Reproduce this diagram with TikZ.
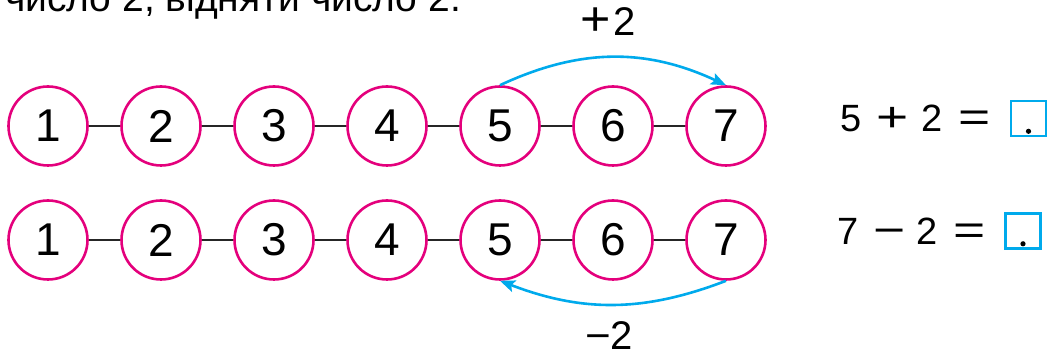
\documentclass[tikz,border=0pt]{standalone}
\usepackage{fontspec}
\usepackage{graphicx}
\setmainfont{Liberation Sans}
\usetikzlibrary{arrows.meta}
\definecolor{rim}{RGB}{228,0,124}
\definecolor{sky}{RGB}{0,170,236}
\newcommand{\wideop}[1]{\scalebox{1.45}[1.1]{#1}}
\tikzset{
  num/.style={circle, draw=rim, line width=2.6pt, minimum size=79pt, inner sep=0pt, font=\fontsize{46}{46}\selectfont},
  link/.style={line width=2pt, black!85},
  jump/.style={sky, line width=2.6pt, -{Stealth[length=15pt,width=12pt,inset=3pt]}},
  ansbox/.style={draw=sky, line width=2.6pt, minimum size=35pt, inner sep=0pt},
  big/.style={font=\fontsize{39}{39}\selectfont, inner sep=0pt}
}
\begin{document}
\begin{tikzpicture}[x=1pt, y=1pt]
            \useasboundingbox (0,0) rectangle (1053,352);
            % Testo
            \node[big, anchor=base west] (intro) at (5,340) {число 2, відняти число 2.};
            % Cerchi
            \foreach \i in {1,...,7} {
                \node[num] (a\i) at ({48+113*(\i-1)},226) {\i};
                \node[num] (b\i) at ({48+113*(\i-1)},112) {\i};
            }
            \foreach \i [evaluate=\i as \j using int(\i+1)] in {1,...,6} {
                \draw[link] (a\i) -- (a\j);
                \draw[link] (b\i) -- (b\j);
            }
            % Frecce
            \draw[jump] (a5.north) to[bend left=25] (a7.north);
            \draw[jump] (b7.south) to[bend left=21] (b5.south);
            \node[big, anchor=base, font=\fontsize{40}{40}\selectfont] (plus) at (608,316) {\scalebox{1.3}[1.2]{+}\hspace{2pt}2};
            \node[big, anchor=base, font=\fontsize{40}{40}\selectfont] (minus) at (609,2) {\scalebox{1.1}[1]{−}2};
            % Uguaglianze
            \node[big, anchor=base west, font=\fontsize{38}{38}\selectfont] (eq1) at (840,220) {5\hspace{15pt}\wideop{+}\hspace{13pt}2\hspace{16pt}\wideop{=}};
            \node[big, anchor=base west, font=\fontsize{38}{38}\selectfont] (eq2) at (837,107) {7\hspace{15pt}\wideop{−}\hspace{11pt}2\hspace{16pt}\wideop{=}};
            \node[ansbox] (box1) at (1028.5,233.5) {};
            \node[ansbox] (box2) at (1023,121) {};
            \fill ([yshift=6pt]box1.south) circle (2.6);
            \fill ([yshift=6pt]box2.south) circle (2.6);
        \end{tikzpicture}
\end{document}
